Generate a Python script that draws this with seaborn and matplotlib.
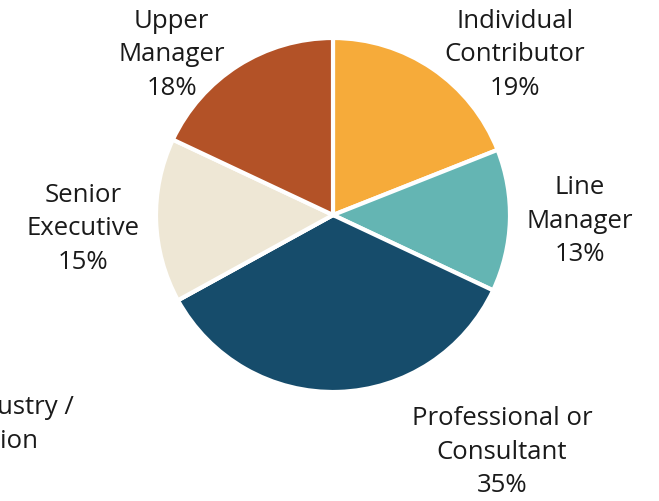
import matplotlib
matplotlib.use("Agg")
import matplotlib.pyplot as plt
import seaborn as sns

sns.set_theme(style="white")
plt.rcParams['font.family'] = ['Open Sans', 'DejaVu Sans']

# Data
labels = ["Individual\nContributor", "Line\nManager", "Professional or\nConsultant",
          "Trade / Industry /\nAssociation", "Senior\nExecutive", "Upper\nManager"]
shares = [19, 13, 35, 0, 15, 18]
colors = ["#F6AB3A", "#64B5B3", "#164C6B", "#8C8C8C", "#EEE7D5", "#B35227"]

# label centres (in pie radius units)
label_pos = [(1.028, 0.904), (1.395, -0.034), (0.955, -1.339),
             (-2.05, -1.277), (-1.412, -0.079), (-0.912, 0.904)]

fig = plt.figure(figsize=(6.59, 5.01), dpi=100)
ax = fig.add_axes([0, 0, 1, 1])

ax.pie(shares, colors=colors, startangle=90, counterclock=False,
       radius=1.0, wedgeprops=dict(edgecolor="white", linewidth=3))

for lab, v, (x, y) in zip(labels, shares, label_pos):
    ax.text(x, y, f"{lab}\n{v}%", ha="center", va="center",
            fontsize=18.5, color="#1a1a1a", linespacing=1.45)

ax.set_xlim(-333 / 177, (659 - 333) / 177)
ax.set_ylim(-(501 - 215) / 177, 215 / 177)
ax.set_aspect("equal")
ax.axis("off")

plt.savefig("out.png", dpi=100)
